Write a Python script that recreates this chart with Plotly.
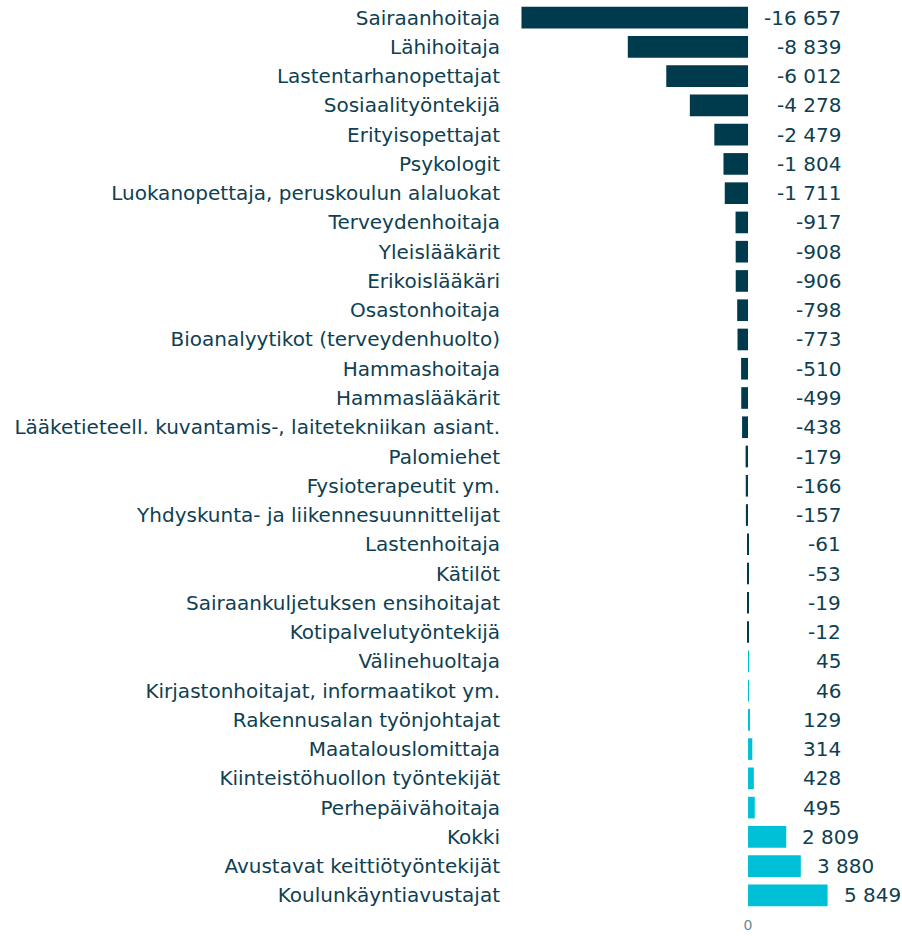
import plotly.graph_objects as go

# Ammatit ja muutos (luvut luettu kuvasta)
ammatit = ['Sairaanhoitaja', 'Lähihoitaja', 'Lastentarhanopettajat', 'Sosiaalityöntekijä',
           'Erityisopettajat', 'Psykologit', 'Luokanopettaja, peruskoulun alaluokat',
           'Terveydenhoitaja', 'Yleislääkärit', 'Erikoislääkäri', 'Osastonhoitaja',
           'Bioanalyytikot (terveydenhuolto)', 'Hammashoitaja', 'Hammaslääkärit',
           'Lääketieteell. kuvantamis-, laitetekniikan asiant.', 'Palomiehet',
           'Fysioterapeutit ym.', 'Yhdyskunta- ja liikennesuunnittelijat', 'Lastenhoitaja',
           'Kätilöt', 'Sairaankuljetuksen ensihoitajat', 'Kotipalvelutyöntekijä',
           'Välinehuoltaja', 'Kirjastonhoitajat, informaatikot ym.', 'Rakennusalan työnjohtajat',
           'Maatalouslomittaja', 'Kiinteistöhuollon työntekijät', 'Perhepäivähoitaja',
           'Kokki', 'Avustavat keittiötyöntekijät', 'Koulunkäyntiavustajat']
muutos = [-16657, -8839, -6012, -4278, -2479, -1804, -1711, -917, -908, -906, -798,
          -773, -510, -499, -438, -179, -166, -157, -61, -53, -19, -12,
          45, 46, 129, 314, 428, 495, 2809, 3880, 5849]

TUMMA = '#003a4d'
SYAAN = '#00c0d8'
TEKSTI = '#0f3f52'


def muotoile(v):
    s = f'{abs(v):,}'.replace(',', ' ')
    return ('-' if v < 0 else '') + s


varit = [TUMMA if v < 0 else SYAAN for v in muutos]

fig = go.Figure(go.Bar(
    x=muutos, y=ammatit, orientation='h',
    marker=dict(color=varit, line=dict(width=0)),
    hoverinfo='x+y',
))

# arvojen tekstit oikealla puolella
for nimi, v in zip(ammatit, muutos):
    if v > 2000:
        fig.add_annotation(x=v, y=nimi, text=muotoile(v), xanchor='left', xshift=14,
                           showarrow=False, font=dict(size=20, color=TEKSTI))
    else:
        fig.add_annotation(x=7000, y=nimi, text=muotoile(v), xanchor='right',
                           showarrow=False, font=dict(size=20, color=TEKSTI))

fig.update_layout(
    width=902, height=936,
    margin=dict(l=510, r=0, t=3, b=26),
    paper_bgcolor='white', plot_bgcolor='white',
    font=dict(family='DejaVu Sans, Verdana, sans-serif', size=20, color=TEKSTI),
    bargap=0.26,
    showlegend=False,
    xaxis=dict(range=[-17500, 11320], tickvals=[0], ticktext=['0'], showgrid=False,
               zeroline=False, showline=False, automargin=False, ticklabelstandoff=5,
               tickfont=dict(size=14, color='#6a8a95')),
    yaxis=dict(range=[30.5, -0.5], showgrid=False, showline=False, ticks='',
               automargin=False, ticklabelstandoff=9, tickfont=dict(size=20, color=TEKSTI)),
)

# sivun oletusreunus pois, jotta kuva alkaa kulmasta
fig.write_html('out.html', config={'displayModeBar': False},
               post_script="document.body.style.margin='0';document.body.style.overflow='hidden';")
